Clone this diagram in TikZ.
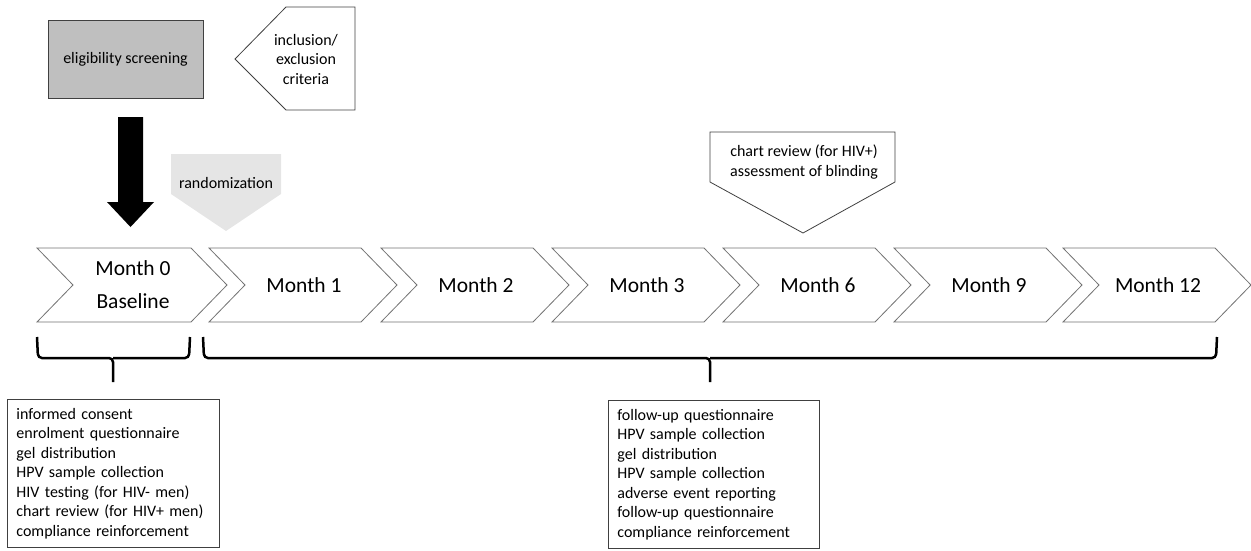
\documentclass[tikz,border=0pt]{standalone}
\usepackage{fontspec}
\setmainfont{Carlito}
\begin{document}
\begin{tikzpicture}
   [x=1pt, y=-1pt,
    chev/.style={draw=black!55, line width=0.8pt, fill=white},
    month/.style={font=\fontsize{21.5}{33}\selectfont, align=center},
    small/.style={font=\fontsize{16}{19.5}\selectfont},
    listbox/.style={draw=black!75, line width=0.8pt, small, align=left, anchor=north west,
                    inner xsep=9pt, minimum height=148pt},
    brace/.style={line width=2.5pt, rounded corners=4pt}]
   \useasboundingbox (0,0) rectangle (1251,550);

   % screening
   \node[draw=black!75, fill=black!25, line width=0.8pt, minimum width=155pt, minimum height=78pt, small]
      (elig) at (125.5,59) {eligibility screening};
   \draw[draw=black!75, line width=0.8pt] (286,7) -- (355,7) -- (355,110) -- (286,110) -- (235,59) -- cycle;
   \node[small, align=center] (crit) at (306,59) {inclusion/\\exclusion\\criteria};

   \fill[black] (118,117) -- (143,117) -- (143,202) -- (154,202) -- (130.5,227)
      -- (107,202) -- (118,202) -- cycle;

   \fill[black!10] (171,154) -- (281,154) -- (281,194) -- (226,231) -- (171,194) -- cycle;
   \node[small] (rand) at (226,183) {randomization};

   \draw[draw=black!75, line width=0.8pt, fill=white] (710,132) -- (895,132) -- (895,182)
      -- (803,233) -- (710,182) -- cycle;
   \node[small, align=center] (chart) at (804,162) {chart review (for HIV+)\\assessment of blinding};

   % timeline
   \draw[chev] (37,248) -- ++(154,0) -- ++(36,37) -- ++(-36,37) -- ++(-154,0) -- ++(36,-37) -- cycle;
   \node[month] (m0) at (133,285) {Month 0\\Baseline};
   \foreach \x/\lab/\nm in {209/Month 1/m1, 381/Month 2/m2, 552/Month 3/m3, 723/Month 6/m6,
                            894/Month 9/m9, 1063/Month 12/m12} {
      \draw[chev] (\x,248) -- ++(152,0) -- ++(36,37) -- ++(-36,37) -- ++(-152,0) -- ++(36,-37) -- cycle;
      \node[month] (\nm) at (\x+95,285) {\lab};
   }

   % braces
   \draw[brace] (37,337) -- (38,358) -- (113,358) -- (113,382);
   \draw[brace] (113,358) -- (189,358) -- (190,337);
   \draw[brace] (203,337) -- (204,358) -- (710,358) -- (710,382);
   \draw[brace] (710,358) -- (1216,358) -- (1217,337);

   % activities
   \node[listbox, text width=194pt] (baselist) at (7,399)
      {informed consent\\enrolment questionnaire\\gel distribution\\HPV sample collection\\
       HIV testing (for HIV- men)\\chart review (for HIV+ men)\\compliance reinforcement};
   \node[listbox, text width=193pt] (followlist) at (608,400)
      {follow-up questionnaire\\HPV sample collection\\gel distribution\\HPV sample collection\\
       adverse event reporting\\follow-up questionnaire\\compliance reinforcement};
\end{tikzpicture}
\end{document}
